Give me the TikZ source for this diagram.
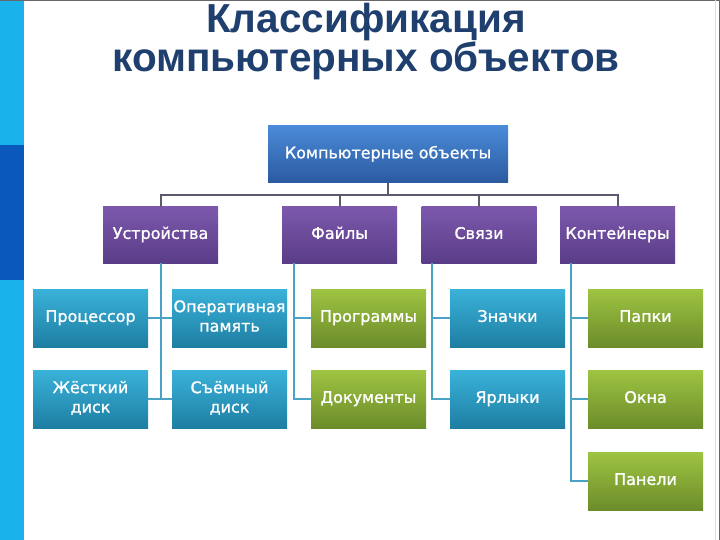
\documentclass[tikz,border=0pt]{standalone}
\usepackage{fontspec}
\setmainfont{DejaVu Sans}
\newfontfamily\boxfont[FakeBold=1.2]{DejaVu Sans}
\newfontfamily\titlefont{Liberation Sans}
\definecolor{barlight}{HTML}{1AB2EA}
\definecolor{bardark}{HTML}{0A58BC}
\definecolor{titlecol}{HTML}{1F3F6E}
\definecolor{bluetop}{HTML}{4A8AD8}
\definecolor{bluebot}{HTML}{2A5AA0}
\definecolor{purtop}{HTML}{7C58AC}
\definecolor{purbot}{HTML}{5A3D88}
\definecolor{teatop}{HTML}{3AB2DA}
\definecolor{teabot}{HTML}{1E7EA2}
\definecolor{grntop}{HTML}{9EC442}
\definecolor{grnbot}{HTML}{6C8C2A}
\definecolor{upcol}{HTML}{5A5A6C}
\definecolor{lowcol}{HTML}{4AA3C6}
\tikzset{
  box/.style={rectangle, minimum width=115pt, minimum height=58pt, inner sep=1pt,
    text=white, font=\boxfont\fontsize{16}{19.5}\selectfont, align=center},
  topbox/.style={box, minimum width=240pt, minimum height=57pt, top color=bluetop, bottom color=bluebot},
  catbox/.style={box, minimum height=56pt, top color=purtop, bottom color=purbot},
  tealbox/.style={box, top color=teatop, bottom color=teabot},
  greenbox/.style={box, top color=grntop, bottom color=grnbot},
  upline/.style={draw=upcol, line width=2pt},
  lowline/.style={draw=lowcol, line width=2pt},
}
\begin{document}
\begin{tikzpicture}[x=1pt, y=-1pt]
\useasboundingbox (0,0) rectangle (720,540);
\fill[white] (0,0) rectangle (720,540);
% left bar
\fill[barlight] (0,0) rectangle (24,540);
\fill[bardark] (0,145) rectangle (24,280);
% frame
\draw[gray!80!black, line width=1.2pt] (0,0.6) -- (719.4,0.6) -- (719.4,540);
\draw[gray!25, line width=0.6pt] (715,0) -- (715,540);
% title
\node[text=titlecol, font=\titlefont\bfseries\fontsize{40.5}{36.5}\selectfont, align=center, anchor=base, inner sep=0pt] (title) at (366,72)
  {Классификация\\компьютерных объектов};
% nodes
\node[topbox] (root) at (388,154.5) {\strut Компьютерные объекты};
\node[catbox] (dev) at (160.5,235) {\strut Устройства};
\node[catbox] (files) at (339.5,235) {\strut Файлы};
\node[catbox] (links) at (479,235) {\strut Связи};
\node[catbox] (cont) at (617.5,235) {\strut Контейнеры};
\node[tealbox] (proc) at (90.5,318) {\strut Процессор};
\node[tealbox] (ram) at (229.5,318) {\strut Оперативная\\\strut память};
\node[greenbox] (prog) at (368.5,318) {\strut Программы};
\node[tealbox] (icons) at (507.5,318) {\strut Значки};
\node[greenbox] (fold) at (645.5,318) {\strut Папки};
\node[tealbox] (hdd) at (90.5,399) {\strut Жёсткий\\\strut диск};
\node[tealbox] (rem) at (229.5,399) {\strut Съёмный\\\strut диск};
\node[greenbox] (docs) at (368.5,399) {\strut Документы};
\node[tealbox] (short) at (507.5,399) {\strut Ярлыки};
\node[greenbox] (wins) at (645.5,399) {\strut Окна};
\node[greenbox] (pan) at (645.5,481) {\strut Панели};
% upper connectors
\coordinate (bus) at (388,195);
\draw[upline] (root.south) -- (bus);
\draw[upline] (dev.north) |- (bus) -| (cont.north);
\draw[upline] (files.north) -- (files.north |- bus);
\draw[upline] (links.north) -- (links.north |- bus);
% lower connectors
\draw[lowline] (dev.south) -- (dev.south |- hdd.east);
\draw[lowline] (proc.east) -- (ram.west);
\draw[lowline] (hdd.east) -- (rem.west);
\draw[lowline] ([xshift=12pt]files.south west) |- (prog.west);
\draw[lowline] ([xshift=12pt]files.south west) |- (docs.west);
\draw[lowline] ([xshift=11pt]links.south west) |- (icons.west);
\draw[lowline] ([xshift=11pt]links.south west) |- (short.west);
\draw[lowline] ([xshift=11pt]cont.south west) |- (fold.west);
\draw[lowline] ([xshift=11pt]cont.south west) |- (wins.west);
\draw[lowline] ([xshift=11pt]cont.south west) |- (pan.west);
\end{tikzpicture}
\end{document}
